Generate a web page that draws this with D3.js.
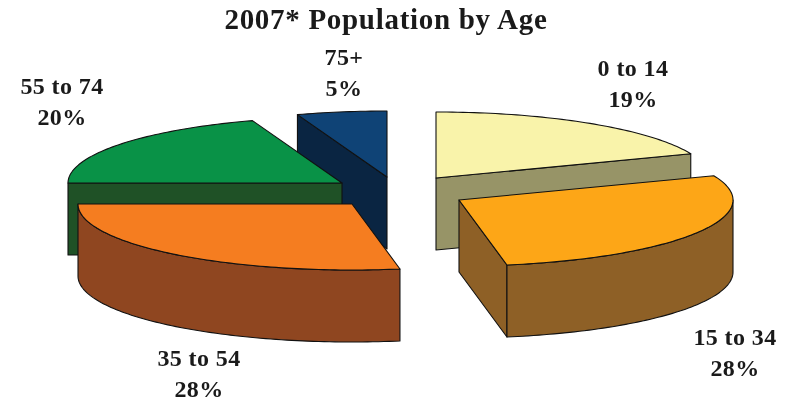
<!DOCTYPE html>
<html><head><meta charset="utf-8">
<script src="https://cdn.jsdelivr.net/npm/d3@7"></script>
<style>html,body{margin:0;padding:0;background:#fff}svg{display:block;filter:blur(0.35px)}text{font-family:"Liberation Serif",serif;font-weight:bold;fill:#1a1a1a;text-anchor:middle}</style>
</head><body><div id="c"></div>
<script>
const categories = ["0 to 14","15 to 34","35 to 54","55 to 74","75+"];
const shares = [19,28.2,27.8,19.7,5.3];
const topColors = ["#F9F3AA","#FDA617","#F57D20","#099247","#0F4376"];
const wallColors = ["#979467","#8E6026","#8F4620","#1F5126","#0A2542"];
// layout: apex of each exploded slice, label anchors, paint order
const apexes = [[436,178],[459,200],[352,204],[342,183],[387,177]];
const labelAnchors = [[633,75],[735,344],[199,365],[62,93],[344,64]];
const paintOrder = [0,4,3,2,1];
const W=786,H=403,RX=274,RY=66,DEPTH=72;

const svg=d3.select("#c").append("svg").attr("width",W).attr("height",H);
svg.append("text").attr("x",386).attr("y",29).attr("font-size",29).attr("letter-spacing",0.7).text("2007* Population by Age");

const slices=d3.pie().sort(null).value(d=>d)(shares);
const ux=d3.scaleLinear().domain([-1,1]).range([-RX,RX]);
const uy=d3.scaleLinear().domain([-1,1]).range([RY,-RY]);
const line=d3.line();
const pct=d3.format(".0f");
const rimPoints=(a0,a1,cx,cy,dy=0)=>{
  const n=Math.max(2,Math.ceil((a1-a0)/0.02));
  return d3.range(n+1).map(i=>{const a=a0+(a1-a0)*i/n;return [cx+ux(Math.sin(a)),cy+uy(Math.cos(a))+dy];});
};
const stroke={stroke:"#111","stroke-width":1.1,"stroke-linejoin":"round"};
const draw=(g,pts,fill)=>{
  const p=g.append("path").attr("d",line(pts)+"Z").attr("fill",fill);
  Object.entries(stroke).forEach(([k,v])=>p.attr(k,v));
};
paintOrder.forEach(i=>{
  const s=slices[i],[cx,cy]=apexes[i],g=svg.append("g");
  const wall=wallColors[i];
  const radial=a=>{
    const e=[cx+ux(Math.sin(a)),cy+uy(Math.cos(a))];
    draw(g,[[cx,cy],e,[e[0],e[1]+DEPTH],[cx,cy+DEPTH]],wall);
  };
  if(Math.sin(s.startAngle)<-1e-6) radial(s.startAngle);
  if(Math.sin(s.endAngle)>1e-6) radial(s.endAngle);
  const r0=Math.max(s.startAngle,Math.PI/2),r1=Math.min(s.endAngle,3*Math.PI/2);
  if(r1>r0){
    const t=rimPoints(r0,r1,cx,cy),b=rimPoints(r0,r1,cx,cy,DEPTH).reverse();
    draw(g,t.concat(b),wall);
  }
  draw(g,[[cx,cy]].concat(rimPoints(s.startAngle,s.endAngle,cx,cy)),topColors[i]);
  const [lx,ly]=labelAnchors[i];
  svg.append("text").attr("x",lx).attr("y",ly+1).attr("font-size",24).attr("letter-spacing",0.4).text(categories[i]);
  svg.append("text").attr("x",lx).attr("y",ly+32).attr("font-size",24).attr("letter-spacing",0.4).text(pct(shares[i])+"%");
});
</script></body></html>
